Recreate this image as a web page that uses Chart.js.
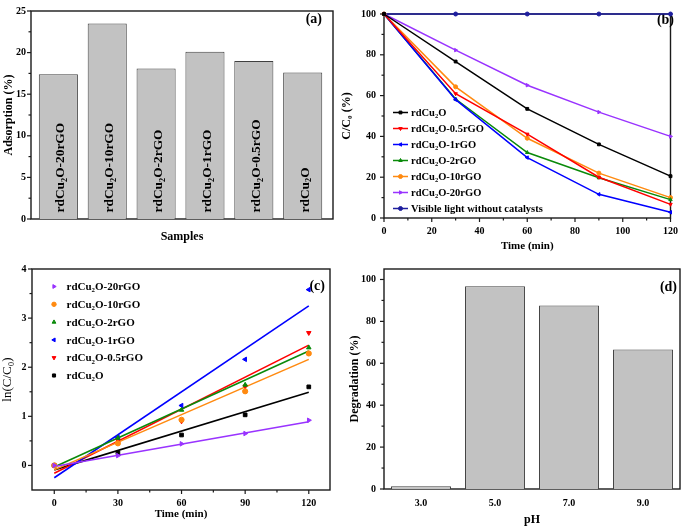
<!DOCTYPE html>
<html>
<head>
<meta charset="utf-8">
<script src="https://cdn.jsdelivr.net/npm/chart.js@4.4.1/dist/chart.umd.min.js"></script>
<style>
  html, body { margin: 0; padding: 0; background: #fff; }
  #wrap { position: relative; width: 685px; height: 526px; overflow: hidden; }
  canvas { position: absolute; left: 0; top: 0; }
</style>
</head>
<body>
<div id="wrap">
  <canvas id="chartA" width="685" height="526"></canvas>
  <canvas id="chartB" width="685" height="526"></canvas>
  <canvas id="chartC" width="685" height="526"></canvas>
  <canvas id="chartD" width="685" height="526"></canvas>
</div>
<script>
/* (a) adsorption in the dark, per sample */
const A_SAMPLES = ['rdCu₂O-20rGO', 'rdCu₂O-10rGO', 'rdCu₂O-2rGO', 'rdCu₂O-1rGO', 'rdCu₂O-0.5rGO', 'rdCu₂O'];
const A_ADSORPTION = [17.4, 23.5, 18.1, 20.1, 19.0, 17.6];
const A_YTICKS = [0, 5, 10, 15, 20, 25];
const A_YMINOR = [2.5, 7.5, 12.5, 17.5, 22.5];

/* (b) C/C0 vs time */
const B_TIME = [0, 30, 60, 90, 120];
const B_SERIES = ['rdCu₂O', 'rdCu₂O-0.5rGO', 'rdCu₂O-1rGO', 'rdCu₂O-2rGO', 'rdCu₂O-10rGO', 'rdCu₂O-20rGO', 'Visible light without catalysts'];
const B_CU2O = [100, 76.7, 53.5, 36.1, 20.5];
const B_05RGO = [100, 60.9, 41.1, 20.0, 6.7];
const B_1RGO = [100, 58.0, 29.6, 11.6, 2.8];
const B_2RGO = [100, 58.3, 32.1, 19.7, 9.0];
const B_10RGO = [100, 64.3, 39.1, 22.0, 10.0];
const B_20RGO = [100, 82.3, 65.1, 51.9, 40.0];
const B_BLANK = [100, 100, 100, 100, 100];
const B_XTICKS = [0, 20, 40, 60, 80, 100, 120];
const B_XMINOR = [10, 30, 50, 70, 90, 110];
const B_YTICKS = [0, 20, 40, 60, 80, 100];
const B_YMINOR = [10, 30, 50, 70, 90];

/* (c) ln(C0/C) kinetics + linear fits */
const C_TIME = [0, 30, 60, 90, 120];
const C_SERIES = ['rdCu₂O-20rGO', 'rdCu₂O-10rGO', 'rdCu₂O-2rGO', 'rdCu₂O-1rGO', 'rdCu₂O-0.5rGO', 'rdCu₂O'];
const C_20RGO = [0, 0.20, 0.44, 0.65, 0.92];
const C_10RGO = [0, 0.45, 0.93, 1.51, 2.28];
const C_2RGO = [0, 0.56, 1.13, 1.64, 2.40];
const C_1RGO = [0, 0.57, 1.22, 2.16, 3.58];
const C_05RGO = [0, 0.51, 0.90, 1.61, 2.70];
const C_CU2O = [0, 0.26, 0.62, 1.03, 1.60];
const C_FIT_T = [0, 120];
const C_FIT_START = [-0.02, -0.09, -0.03, -0.25, -0.16, -0.09];
const C_FIT_END = [0.89, 2.16, 2.33, 3.25, 2.45, 1.49];
const C_XTICKS = [0, 30, 60, 90, 120];
const C_XMINOR = [15, 45, 75, 105];
const C_YTICKS = [0, 1, 2, 3, 4];
const C_YMINOR = [0.5, 1.5, 2.5, 3.5];

/* (d) degradation vs pH */
const D_PH = ['3.0', '5.0', '7.0', '9.0'];
const D_DEGRADATION = [1.3, 96.8, 87.6, 66.6];
const D_YTICKS = [0, 20, 40, 60, 80, 100];
const D_YMINOR = [10, 30, 50, 70, 90];

/* ---------- styles ---------- */
const SERIF = '"Liberation Serif", "Times New Roman", "DejaVu Serif", serif';
const INK = '#1a1a1a';
const BAR_FILL = '#c2c2c2';
const BAR_EDGE = '#404040';
const B_COLORS = ['#000000', '#ff0000', '#0000ff', '#0a8a0a', '#ff8a10', '#9933ff', '#1e1e9e'];
const B_MARKS = [['rect', 0], ['triangle', 180], ['triangle', -90], ['triangle', 0], ['circle', 0], ['triangle', 90], ['circle', 0]];
const C_COLORS = ['#9933ff', '#ff8a10', '#0a8a0a', '#0000ff', '#ff0000', '#000000'];
const C_MARKS = [['triangle', 90], ['circle', 0], ['triangle', 0], ['triangle', -90], ['triangle', 180], ['rect', 0]];

const TICK_FONT = { size: 10, weight: 'bold' };
const TITLE_FONT = { size: 12, weight: 'bold' };
const NO_GRID = { display: false, drawTicks: false };

Chart.defaults.font.family = SERIF;
Chart.defaults.color = '#000';

const fixedH = (h) => (s) => { s.height = h; };
const fixedW = (w) => (s) => { s.width = w; };
const setTicks = (vals) => (s) => { s.ticks = vals.map((v) => ({ value: v })); };

/* text with unicode subscript digits drawn small and lowered */
const SUBS = '₀₁₂₃₄₅₆₇₈₉';
function drawRich(ctx, text, x, y, size, weight) {
  const runs = [];
  let cur = '', sub = false;
  for (const ch of text) {
    const isSub = SUBS.includes(ch);
    if (cur && isSub !== sub) { runs.push([cur, sub]); cur = ''; }
    sub = isSub;
    cur += isSub ? String(SUBS.indexOf(ch)) : ch;
  }
  if (cur) runs.push([cur, sub]);
  ctx.textAlign = 'left';
  ctx.textBaseline = 'alphabetic';
  let cx = x;
  runs.forEach(([s, isSub]) => {
    ctx.font = `${weight} ${isSub ? size * 0.62 : size}px ${SERIF}`;
    ctx.fillText(s, cx, isSub ? y + size * 0.2 : y);
    cx += ctx.measureText(s).width;
  });
}

/* ---------- plugins ---------- */
const framePlugin = {
  id: 'frame',
  beforeDatasetsDraw(chart, args, o) {
    const { ctx, chartArea: a } = chart;
    ctx.save();
    ctx.strokeStyle = INK;
    ctx.lineWidth = 1.4;
    ctx.strokeRect(a.left, a.top, a.width, a.height);
    ctx.lineWidth = 1.2;
    ['x', 'y'].forEach((id) => {
      const m = o[id];
      if (!m) return;
      const s = chart.scales[id];
      const mark = (v, len) => {
        const p = s.getPixelForValue(v);
        ctx.beginPath();
        if (id === 'x') { ctx.moveTo(p, a.bottom); ctx.lineTo(p, a.bottom + len); }
        else { ctx.moveTo(a.left, p); ctx.lineTo(a.left - len, p); }
        ctx.stroke();
      };
      m.major.forEach((v) => mark(v, 4));
      (m.minor || []).forEach((v) => mark(v, 2.5));
    });
    ctx.restore();
  },
};

const tagPlugin = {
  id: 'tag',
  beforeDatasetsDraw(chart, args, o) {
    const ctx = chart.ctx;
    ctx.save();
    ctx.font = `bold 14px ${SERIF}`;
    ctx.fillStyle = '#000';
    ctx.textAlign = 'right';
    ctx.textBaseline = 'alphabetic';
    ctx.fillText(o.text, o.x, o.y);
    ctx.restore();
  },
};

const barLabelPlugin = {
  id: 'barLabels',
  afterDatasetsDraw(chart, args, o) {
    const ctx = chart.ctx;
    ctx.save();
    ctx.fillStyle = '#000';
    chart.getDatasetMeta(0).data.forEach((bar, i) => {
      ctx.save();
      ctx.translate(bar.x + o.shift, o.baseY);
      ctx.rotate(-Math.PI / 2);
      drawRich(ctx, o.labels[i], 0, 0, o.size, 'bold');
      ctx.restore();
    });
    ctx.restore();
  },
};

const keyPlugin = {
  id: 'key',
  afterDatasetsDraw(chart, args, o) {
    const ctx = chart.ctx;
    ctx.save();
    o.items.forEach((di, k) => {
      const ds = chart.data.datasets[di];
      const y = o.y + k * o.gap;
      ctx.strokeStyle = ds.borderColor;
      ctx.fillStyle = ds.backgroundColor;
      if (o.lineHalf) {
        ctx.lineWidth = ds.borderWidth;
        ctx.beginPath();
        ctx.moveTo(o.x - o.lineHalf, y);
        ctx.lineTo(o.x + o.lineHalf, y);
        ctx.stroke();
      }
      ctx.lineWidth = 1;
      Chart.helpers.drawPoint(ctx, { pointStyle: ds.pointStyle, radius: o.radius, rotation: ds.pointRotation, borderWidth: 1 }, o.x, y);
      ctx.fillStyle = '#000';
      drawRich(ctx, ds.label, o.textX, y + o.size * 0.33, o.size, 'bold');
    });
    ctx.restore();
  },
};

const BASE = { responsive: false, animation: false, events: [] };
const QUIET = { legend: { display: false }, tooltip: { enabled: false } };

/* ---------- (a) ---------- */
new Chart(document.getElementById('chartA'), {
  type: 'bar',
  data: { datasets: [{
    data: A_ADSORPTION.map((v, i) => ({ x: i + 1, y: v })),
    backgroundColor: BAR_FILL, borderColor: BAR_EDGE, borderWidth: 1,
    barPercentage: 0.8, categoryPercentage: 1,
  }] },
  options: { ...BASE,
    layout: { padding: { left: 0, top: 5, right: 352, bottom: 271 } },
    scales: {
      x: { type: 'linear', offset: false, min: 0.44, max: 6.62, ticks: { display: false }, grid: NO_GRID, border: { display: false },
        title: { display: true, text: 'Samples', font: TITLE_FONT, padding: { top: 0, bottom: 11 } }, afterFit: fixedH(36) },
      y: { min: 0, max: 25, ticks: { font: TICK_FONT, padding: 5 }, afterBuildTicks: setTicks(A_YTICKS), grid: NO_GRID, border: { display: false },
        title: { display: true, text: 'Adsorption (%)', font: TITLE_FONT, padding: { top: 2, bottom: 0 } }, afterFit: fixedW(31) },
    },
    plugins: { ...QUIET,
      frame: { y: { major: A_YTICKS, minor: A_YMINOR } },
      tag: { text: '(a)', x: 322, y: 23 },
      barLabels: { labels: A_SAMPLES, shift: 6, baseY: 212.5, size: 13.4 },
    },
  },
  plugins: [framePlugin, tagPlugin, barLabelPlugin],
});

/* ---------- (b) ---------- */
const bValues = [B_CU2O, B_05RGO, B_1RGO, B_2RGO, B_10RGO, B_20RGO, B_BLANK];
new Chart(document.getElementById('chartB'), {
  type: 'line',
  data: { datasets: bValues.map((vals, i) => ({
    label: B_SERIES[i],
    data: B_TIME.map((t, k) => ({ x: t, y: vals[k] })),
    borderColor: B_COLORS[i], backgroundColor: B_COLORS[i], borderWidth: 1.5,
    pointStyle: B_MARKS[i][0], pointRotation: B_MARKS[i][1], pointRadius: 2, pointBorderWidth: 1,
    tension: 0, clip: 6,
  })) },
  options: { ...BASE,
    layout: { padding: { left: 338, top: 3, right: 8, bottom: 271 } },
    scales: {
      x: { type: 'linear', min: 0, max: 120, ticks: { font: TICK_FONT, padding: 7, maxRotation: 0 }, afterBuildTicks: setTicks(B_XTICKS), grid: NO_GRID, border: { display: false },
        title: { display: true, text: 'Time (min)', font: { size: 11, weight: 'bold' }, padding: { top: 0, bottom: 2.4 } }, afterFit: fixedH(37) },
      y: { min: 0, max: 100, ticks: { font: TICK_FONT, padding: 8 }, afterBuildTicks: setTicks(B_YTICKS), grid: NO_GRID, border: { display: false },
        title: { display: true, text: 'C/C₀ (%)', font: TITLE_FONT, padding: { top: 1.8, bottom: 0 } }, afterFit: fixedW(46) },
    },
    plugins: { ...QUIET,
      frame: { x: { major: B_XTICKS, minor: B_XMINOR }, y: { major: B_YTICKS, minor: B_YMINOR } },
      tag: { text: '(b)', x: 674, y: 24 },
      key: { items: [0, 1, 2, 3, 4, 5, 6], x: 400.5, lineHalf: 7.5, textX: 411, y: 112.5, gap: 16, size: 10.5, radius: 2 },
    },
  },
  plugins: [framePlugin, tagPlugin, keyPlugin],
});

/* ---------- (c) ---------- */
const cValues = [C_20RGO, C_10RGO, C_2RGO, C_1RGO, C_05RGO, C_CU2O];
const cPoints = cValues.map((vals, i) => ({
  label: C_SERIES[i],
  data: C_TIME.map((t, k) => ({ x: t, y: vals[k] })),
  borderColor: C_COLORS[i], backgroundColor: C_COLORS[i], borderWidth: 1,
  pointStyle: C_MARKS[i][0], pointRotation: C_MARKS[i][1], pointRadius: 2.6,
  showLine: false, clip: 6,
}));
const cFits = C_SERIES.map((name, i) => ({
  label: name + ' fit',
  data: [{ x: C_FIT_T[0], y: C_FIT_START[i] }, { x: C_FIT_T[1], y: C_FIT_END[i] }],
  borderColor: C_COLORS[i], backgroundColor: C_COLORS[i], borderWidth: 1.6,
  pointRadius: 0, tension: 0,
}));
new Chart(document.getElementById('chartC'), {
  type: 'line',
  data: { datasets: [...cPoints, ...cFits] },
  options: { ...BASE,
    layout: { padding: { left: 0, top: 269, right: 355, bottom: 0 } },
    scales: {
      x: { type: 'linear', min: -10.5, max: 130, ticks: { font: TICK_FONT, padding: 7, maxRotation: 0 }, afterBuildTicks: setTicks(C_XTICKS), grid: NO_GRID, border: { display: false },
        title: { display: true, text: 'Time (min)', font: { size: 11, weight: 'bold' }, padding: { top: 0, bottom: 5.4 } }, afterFit: fixedH(36) },
      y: { min: -0.5, max: 4, ticks: { font: TICK_FONT, padding: 5.5 }, afterBuildTicks: setTicks(C_YTICKS), grid: NO_GRID, border: { display: false },
        title: { display: true, text: 'ln(C/C₀)', font: { size: 13, weight: 'normal', lineHeight: 1.1 }, padding: { top: 0, bottom: 0 } }, afterFit: fixedW(32) },
    },
    plugins: { ...QUIET,
      frame: { x: { major: C_XTICKS, minor: C_XMINOR }, y: { major: C_YTICKS, minor: C_YMINOR } },
      tag: { text: '(c)', x: 325, y: 289.5 },
      key: { items: [0, 1, 2, 3, 4, 5], x: 54, lineHalf: 0, textX: 66.5, y: 286.5, gap: 17.8, size: 11, radius: 2.2 },
    },
  },
  plugins: [framePlugin, tagPlugin, keyPlugin],
});

/* ---------- (d) ---------- */
new Chart(document.getElementById('chartD'), {
  type: 'bar',
  data: { labels: D_PH, datasets: [{
    data: D_DEGRADATION,
    backgroundColor: BAR_FILL, borderColor: BAR_EDGE, borderWidth: 1,
    barPercentage: 0.81, categoryPercentage: 1,
  }] },
  options: { ...BASE,
    layout: { padding: { left: 346, top: 269, right: 5, bottom: 0 } },
    scales: {
      x: { ticks: { font: TICK_FONT, padding: 8, maxRotation: 0 }, grid: NO_GRID, border: { display: false },
        title: { display: true, text: 'pH', font: { size: 12, weight: 'bold', lineHeight: 1 }, padding: { top: 0, bottom: 0 } }, afterFit: fixedH(37) },
      y: { min: 0, max: 105, ticks: { font: TICK_FONT, padding: 8 }, afterBuildTicks: setTicks(D_YTICKS), grid: NO_GRID, border: { display: false },
        title: { display: true, text: 'Degradation (%)', font: TITLE_FONT, padding: { top: 1.8, bottom: 0 } }, afterFit: fixedW(38) },
    },
    plugins: { ...QUIET,
      frame: { y: { major: D_YTICKS, minor: D_YMINOR } },
      tag: { text: '(d)', x: 677, y: 290.5 },
    },
  },
  plugins: [framePlugin, tagPlugin],
});
</script>
</body>
</html>
